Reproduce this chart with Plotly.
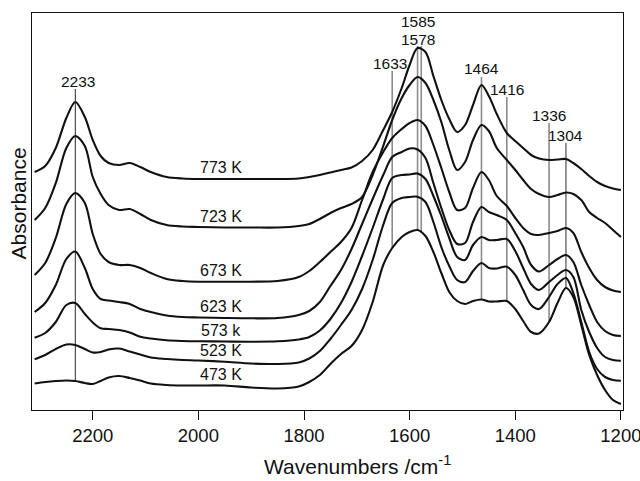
import numpy as np
import plotly.graph_objects as go

# ---------------- data ----------------
wavenumber = [2310, 2290, 2270, 2250, 2233, 2215, 2200, 2185, 2170, 2150,
              2130, 2110, 2090, 2060, 2030, 2000, 1950, 1900, 1850, 1810,
              1790, 1770, 1750, 1730, 1710, 1690, 1670, 1650, 1633, 1615,
              1600, 1585, 1570, 1555, 1540, 1525, 1510, 1495, 1480, 1464,
              1450, 1435, 1416, 1400, 1385, 1370, 1355, 1336, 1320, 1304,
              1290, 1275, 1260, 1245, 1230, 1215, 1200]

a_773 = [2.38, 2.44, 2.62, 2.92, 3.08, 2.93, 2.70, 2.54, 2.47, 2.45,
         2.47, 2.43, 2.38, 2.33, 2.315, 2.31, 2.31, 2.31, 2.31, 2.315,
         2.33, 2.35, 2.375, 2.40, 2.425, 2.49, 2.60, 2.80, 2.98, 3.22,
         3.45, 3.62, 3.58, 3.34, 3.10, 2.91, 2.78, 2.85, 3.05, 3.25,
         3.14, 2.96, 2.77, 2.69, 2.62, 2.55, 2.515, 2.50, 2.505, 2.51,
         2.47, 2.41, 2.34, 2.28, 2.24, 2.215, 2.20]
a_723 = [1.90, 2.02, 2.27, 2.62, 2.74, 2.64, 2.33, 2.16, 2.05, 2.00,
         2.01, 1.96, 1.90, 1.85, 1.835, 1.83, 1.825, 1.825, 1.825, 1.84,
         1.86, 1.91, 1.97, 2.02, 2.06, 2.13, 2.35, 2.64, 2.90, 3.12,
         3.25, 3.33, 3.27, 3.10, 2.88, 2.60, 2.40, 2.48, 2.70, 2.85,
         2.79, 2.62, 2.50, 2.40, 2.30, 2.21, 2.16, 2.13, 2.15, 2.175,
         2.16, 2.10, 1.98, 1.92, 1.87, 1.80, 1.73]
a_673 = [1.35, 1.47, 1.72, 2.06, 2.17, 2.07, 1.76, 1.56, 1.48, 1.45,
         1.45, 1.42, 1.37, 1.31, 1.29, 1.283, 1.283, 1.283, 1.29, 1.33,
         1.39, 1.48, 1.58, 1.68, 1.82, 2.10, 2.38, 2.58, 2.72, 2.81,
         2.87, 2.90, 2.84, 2.65, 2.42, 2.18, 2.00, 2.02, 2.22, 2.38,
         2.30, 2.14, 2.04, 1.92, 1.82, 1.76, 1.75, 1.77, 1.79, 1.82,
         1.77, 1.58, 1.42, 1.30, 1.23, 1.195, 1.18]
a_623 = [0.98, 1.07, 1.25, 1.51, 1.585, 1.42, 1.21, 1.11, 1.095, 1.08,
         1.06, 1.01, 0.98, 0.945, 0.93, 0.925, 0.92, 0.917, 0.92, 0.95,
         0.99, 1.08, 1.24, 1.40, 1.61, 1.86, 2.11, 2.35, 2.53, 2.58,
         2.615, 2.605, 2.52, 2.27, 2.02, 1.80, 1.66, 1.67, 1.88, 2.03,
         1.98, 1.95, 1.90, 1.77, 1.63, 1.45, 1.385, 1.45, 1.51, 1.55,
         1.48, 1.25, 1.05, 0.88, 0.79, 0.75, 0.74]
a_573 = [0.723, 0.77, 0.88, 1.05, 1.07, 0.96, 0.875, 0.817, 0.81, 0.80,
         0.775, 0.733, 0.715, 0.697, 0.69, 0.687, 0.685, 0.683, 0.687, 0.705,
         0.73, 0.795, 0.91, 1.07, 1.28, 1.54, 1.82, 2.11, 2.32, 2.35,
         2.355, 2.365, 2.31, 2.14, 1.94, 1.72, 1.53, 1.50, 1.65, 1.73,
         1.70, 1.70, 1.71, 1.59, 1.42, 1.26, 1.20, 1.28, 1.35, 1.40,
         1.33, 1.00, 0.78, 0.62, 0.53, 0.50, 0.493]
a_523 = [0.507, 0.55, 0.61, 0.655, 0.65, 0.61, 0.575, 0.58, 0.605, 0.615,
         0.585, 0.555, 0.525, 0.51, 0.50, 0.495, 0.482, 0.465, 0.46, 0.475,
         0.515, 0.59, 0.71, 0.85, 1.00, 1.21, 1.50, 1.85, 2.07, 2.12,
         2.13, 2.133, 2.08, 1.88, 1.63, 1.44, 1.30, 1.28, 1.39, 1.47,
         1.42, 1.415, 1.433, 1.35, 1.20, 1.05, 1.01, 1.13, 1.26, 1.32,
         1.17, 0.88, 0.58, 0.41, 0.33, 0.30, 0.293]
a_473 = [0.265, 0.28, 0.29, 0.295, 0.29, 0.27, 0.26, 0.29, 0.325, 0.34,
         0.32, 0.295, 0.265, 0.25, 0.245, 0.245, 0.245, 0.225, 0.215, 0.235,
         0.28, 0.35, 0.46, 0.56, 0.64, 0.80, 1.08, 1.45, 1.62, 1.73,
         1.78, 1.80, 1.74, 1.58, 1.37, 1.18, 1.09, 1.06, 1.09, 1.105,
         1.085, 1.085, 1.09, 1.01, 0.89, 0.78, 0.765, 0.88, 1.07, 1.22,
         1.13, 0.85, 0.55, 0.35, 0.20, 0.10, 0.06]

spectra = [a_773, a_723, a_673, a_623, a_573, a_523, a_473]
temp_labels = ["773 K", "723 K", "673 K", "623 K", "573 k", "523 K", "473 K"]

peaks = [2233, 1633, 1585, 1578, 1464, 1416, 1336, 1304]
peak_labels = ["2233", "1633", "1585", "1578", "1464", "1416", "1336", "1304"]

x_ticks = [2200, 2000, 1800, 1600, 1400, 1200]

# ---------------- layout / style settings ----------------
FONT = "Liberation Sans, Arial, Helvetica, sans-serif"
peak_style = {
    2233: dict(label_y=3.29, top=3.21, xshift=3, color="#2a2a2a", width=1.0),
    1633: dict(label_y=3.467, top=3.39, xshift=-2, color="#8c8c8c", width=1.6),
    1585: dict(label_y=3.883, top=3.64, xshift=0, color="#8c8c8c", width=1.6),
    1578: dict(label_y=3.71, top=3.64, xshift=-3, color="#8c8c8c", width=1.6),
    1464: dict(label_y=3.417, top=3.33, xshift=0, color="#8c8c8c", width=1.6),
    1416: dict(label_y=3.21, top=3.13, xshift=0, color="#8c8c8c", width=1.6),
    1336: dict(label_y=2.95, top=2.87, xshift=0, color="#8c8c8c", width=1.6),
    1304: dict(label_y=2.75, top=2.67, xshift=0, color="#2a2a2a", width=1.0),
}
TEMP_LABEL_WN = 1957
TEMP_LABEL_OFFSET = 0.113

fig = go.Figure()

wn_inc = np.array(wavenumber[::-1], dtype=float)
low_inc = np.array(a_473[::-1], dtype=float)

# vertical peak marker lines (from label down to the lowest spectrum)
for p in peaks:
    st = peak_style[p]
    bottom = float(np.interp(p, wn_inc, low_inc))
    fig.add_trace(go.Scatter(x=[p, p], y=[bottom, st["top"]], mode="lines",
                             line=dict(color=st["color"], width=st["width"]),
                             hoverinfo="skip", showlegend=False))

# spectra
for ys in spectra:
    fig.add_trace(go.Scatter(x=wavenumber, y=ys, mode="lines",
                             line=dict(color="#111111", width=2.1,
                                       shape="spline", smoothing=0.9),
                             showlegend=False))

annotations = []
for ys, lab in zip(spectra, temp_labels):
    yv = float(np.interp(TEMP_LABEL_WN, wn_inc, np.array(ys[::-1], dtype=float)))
    annotations.append(dict(x=TEMP_LABEL_WN, y=yv + TEMP_LABEL_OFFSET, xref="x", yref="y",
                            text=lab, showarrow=False, xanchor="center", yanchor="middle",
                            font=dict(size=16, family=FONT, color="#111111")))
for p, lab in zip(peaks, peak_labels):
    st = peak_style[p]
    annotations.append(dict(x=p, y=st["label_y"], xref="x", yref="y", text=lab,
                            showarrow=False, xanchor="center", yanchor="middle",
                            xshift=st["xshift"],
                            font=dict(size=15.5, family=FONT, color="#111111")))
annotations.append(dict(x=0.55, y=-0.176, xref="paper", yref="paper",
                        text="Wavenumbers /cm<sup>-1</sup>", showarrow=False,
                        xanchor="center", yanchor="bottom",
                        font=dict(size=21, family=FONT, color="#111111")))
annotations.append(dict(x=-0.0228, y=0.519, xref="paper", yref="paper",
                        text="Absorbance", showarrow=False, textangle=-90,
                        xanchor="center", yanchor="middle",
                        font=dict(size=21, family=FONT, color="#111111")))

fig.update_layout(
    width=640, height=481,
    margin=dict(l=32, r=17, t=13, b=71),
    paper_bgcolor="white", plot_bgcolor="white",
    showlegend=False,
    font=dict(family=FONT, color="#111111"),
    xaxis=dict(range=[2315, 1196], tickvals=x_ticks,
               ticktext=[str(t) for t in x_ticks],
               ticks="outside", ticklen=9, tickwidth=1.3, tickcolor="#111111",
               ticklabeloverflow="allow",
               showline=True, linecolor="#111111", linewidth=1.3, mirror=True,
               showgrid=False, zeroline=False, automargin=False,
               tickfont=dict(size=18.5, family=FONT, color="#111111")),
    yaxis=dict(range=[0, 3.97], showticklabels=False, ticks="",
               showline=True, linecolor="#111111", linewidth=1.3, mirror=True,
               showgrid=False, zeroline=False),
    annotations=annotations,
)

fig.write_html("out.html")
